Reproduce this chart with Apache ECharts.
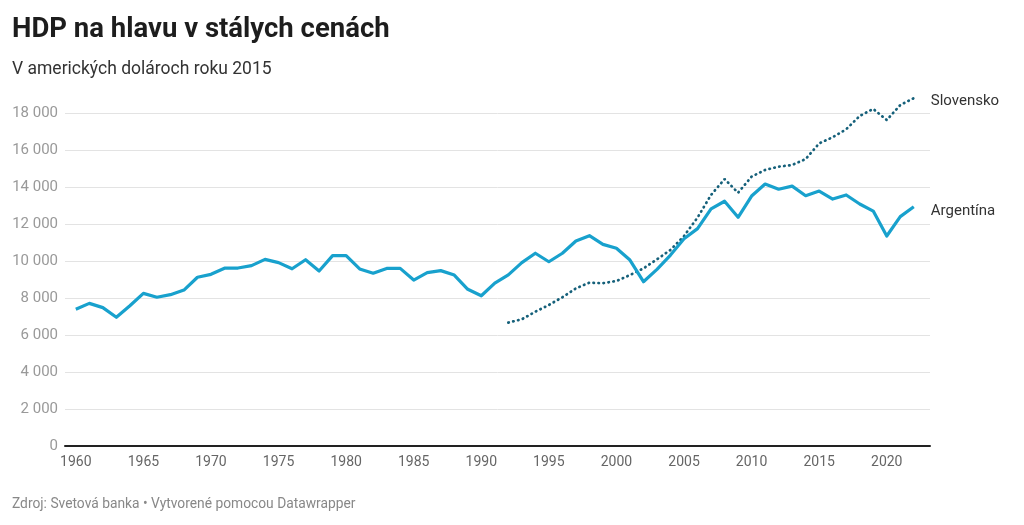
<!DOCTYPE html>
<html><head><meta charset="utf-8">
<script src="https://cdn.jsdelivr.net/npm/echarts@6/dist/echarts.min.js"></script>
<style>html,body{margin:0;padding:0;background:#fff}#c{width:1024px;height:525px}</style>
</head><body><div id="c"></div>
<script>
const argYears = [1960,1961,1962,1963,1964,1965,1966,1967,1968,1969,1970,1971,1972,1973,1974,1975,1976,1977,1978,1979,1980,1981,1982,1983,1984,1985,1986,1987,1988,1989,1990,1991,1992,1993,1994,1995,1996,1997,1998,1999,2000,2001,2002,2003,2004,2005,2006,2007,2008,2009,2010,2011,2012,2013,2014,2015,2016,2017,2018,2019,2020,2021,2022];
const argentina = [7390,7710,7480,6960,7580,8250,8040,8180,8430,9120,9280,9610,9620,9750,10090,9910,9580,10070,9460,10290,10290,9570,9340,9600,9600,8970,9370,9480,9240,8470,8120,8800,9250,9910,10420,9960,10420,11080,11370,10900,10690,10050,8880,9550,10320,11200,11750,12820,13230,12360,13510,14160,13880,14050,13530,13780,13350,13570,13080,12700,11350,12400,12930];
const svkYears = [1992,1993,1994,1995,1996,1997,1998,1999,2000,2001,2002,2003,2004,2005,2006,2007,2008,2009,2010,2011,2012,2013,2014,2015,2016,2017,2018,2019,2020,2021,2022];
const slovensko = [6670,6850,7260,7620,8040,8520,8830,8800,8920,9240,9600,10090,10600,11350,12350,13570,14430,13690,14560,14920,15100,15190,15510,16360,16690,17120,17840,18220,17620,18430,18800];
const xTicks = [1960,1965,1970,1975,1980,1985,1990,1995,2000,2005,2010,2015,2020];
const yTicks = [0,2000,4000,6000,8000,10000,12000,14000,16000,18000];

const chart = echarts.init(document.getElementById('c'), null, {renderer: 'canvas'});
const font = 'Roboto, "Noto Sans", sans-serif';
chart.setOption({
  animation: false,
  textStyle: {fontFamily: font},
  title: [
    {text: 'HDP na hlavu v stálych cenách', left: 7, top: 11,
     textStyle: {fontFamily: font, fontSize: 27.5, fontWeight: 'bold', color: '#1d1d1d'}},
    {text: 'V amerických dolároch roku 2015', left: 7, top: 56,
     textStyle: {fontFamily: font, fontSize: 17.5, fontWeight: 'normal', color: '#333'}},
    {text: 'Zdroj: Svetová banka • Vytvorené pomocou Datawrapper', left: 7, top: 493,
     textStyle: {fontFamily: font, fontSize: 13.8, fontWeight: 'normal', color: '#888'}}
  ],
  grid: {left: 65, right: 94, top: 113, bottom: 79, containLabel: false},
  xAxis: {
    type: 'value', min: 1959.2, max: 2023.2,
    axisLine: {show: true, onZero: false, lineStyle: {color: '#222', width: 2}},
    axisTick: {show: false},
    splitLine: {show: false},
    axisLabel: {customValues: xTicks, color: '#666', fontSize: 14, margin: 9, fontFamily: font,
      formatter: v => String(v)}
  },
  yAxis: {
    type: 'value', min: 0, max: 18000, interval: 2000,
    axisLine: {show: false}, axisTick: {show: false},
    splitLine: {lineStyle: {color: '#e3e3e3', width: 1}},
    axisLabel: {color: '#999', fontSize: 15, margin: 7, fontFamily: font,
      formatter: v => String(v).replace(/\B(?=(\d{3})+(?!\d))/g, ' ')}
  },
  series: [
    {name: 'Slovensko', type: 'line', clip: false, symbol: 'none', z: 2,
     data: svkYears.map((y, i) => [y, slovensko[i]]),
     lineStyle: {color: '#15607a', width: 2.7, type: [0.5, 4.5], cap: 'round'},
     endLabel: {show: true, formatter: '{a}', distance: 17, color: '#333', fontSize: 15, fontFamily: font, offset: [0, 3]}},
    {name: 'Argentína', type: 'line', clip: false, symbol: 'none', z: 3,
     data: argYears.map((y, i) => [y, argentina[i]]),
     lineStyle: {color: '#18a1cd', width: 3.2, join: 'round'},
     endLabel: {show: true, formatter: '{a}', distance: 17, color: '#333', fontSize: 15, fontFamily: font, offset: [0, 4]}}
  ]
});
</script></body></html>
